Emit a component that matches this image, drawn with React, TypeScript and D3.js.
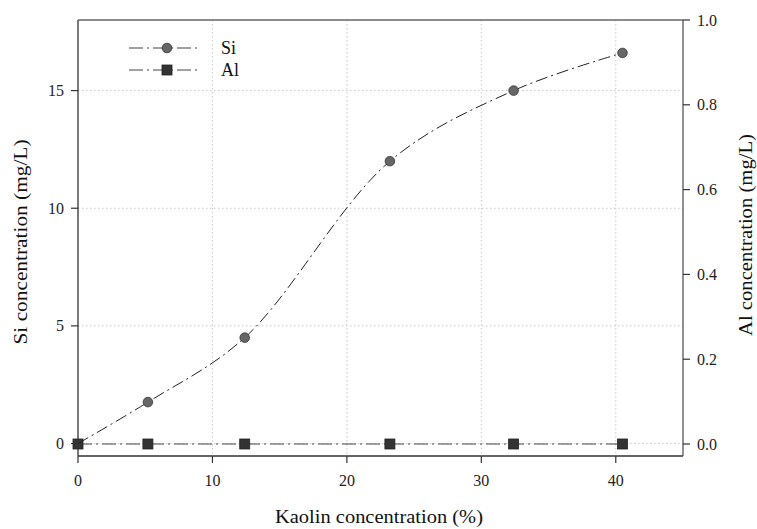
import React from "react";
import * as d3 from "d3";

// Kaolin concentration (%) at each sampling point
const kaolin = [0, 5.2, 12.4, 23.2, 32.4, 40.5];
// Dissolved Si (mg/L), left axis
const siValues = [0, 1.76, 4.5, 12.0, 15.0, 16.6];
// Dissolved Al (mg/L), right axis
const alValues = [0, 0, 0, 0, 0, 0];

const xTicks = [0, 10, 20, 30, 40];
const siTicks = [0, 5, 10, 15];
const alTicks = [0, 0.2, 0.4, 0.6, 0.8, 1.0];

const W = 757;
const H = 529;
const M = { left: 78, right: 683, top: 20, bottom: 456 };

const serif = "'Liberation Serif', 'Times New Roman', serif";

export default function App() {
  const x = d3.scaleLinear().domain([0, 45]).range([M.left, M.right]);
  const ySi = d3.scaleLinear().domain([-0.53, 18.0]).range([M.bottom, M.top]);
  const yAl = d3.scaleLinear().domain([-0.0283, 1.0]).range([M.bottom, M.top]);

  const siLine = d3
    .line<number>()
    .x((_, i) => x(kaolin[i]))
    .y((d) => ySi(d))
    .curve(d3.curveCatmullRom.alpha(0.5));
  const alLine = d3
    .line<number>()
    .x((_, i) => x(kaolin[i]))
    .y((d) => yAl(d));

  const tickStyle = { fontFamily: serif, fontSize: 16 };
  const titleStyle = { fontFamily: serif, fontSize: 18 };
  const grid = "#c8c8c8";
  const axisCol = "#333";

  return (
    <svg
      width={W}
      height={H}
      style={{ position: "absolute", left: 0, top: 0, background: "#fff" }}
    >
      {/* grid */}
      <g stroke={grid} strokeWidth={1} strokeDasharray="1.5,2.5">
        {xTicks
          .filter((t) => t > 0)
          .map((t) => (
            <line key={"gx" + t} x1={x(t)} x2={x(t)} y1={M.top} y2={M.bottom} />
          ))}
        {siTicks.map((t) => (
          <line key={"gy" + t} x1={M.left} x2={M.right} y1={ySi(t)} y2={ySi(t)} />
        ))}
      </g>

      {/* frame */}
      <line x1={M.left} x2={M.right} y1={M.top} y2={M.top} stroke="#666" strokeWidth={1.5} />
      <line x1={M.left} x2={M.right} y1={M.bottom} y2={M.bottom} stroke={axisCol} strokeWidth={1.3} />
      <line x1={M.left} x2={M.left} y1={M.top} y2={M.bottom} stroke={axisCol} strokeWidth={1.3} />
      <line x1={M.right} x2={M.right} y1={M.top} y2={M.bottom} stroke="#555" strokeWidth={1.3} />

      {/* bottom axis */}
      {xTicks.map((t) => (
        <g key={"xt" + t}>
          <line x1={x(t)} x2={x(t)} y1={M.bottom} y2={M.bottom + 7} stroke={axisCol} strokeWidth={1.2} />
          <text x={x(t)} y={486} textAnchor="middle" style={tickStyle} fill="#222">
            {t}
          </text>
        </g>
      ))}

      {/* left axis */}
      {siTicks.map((t) => (
        <g key={"yl" + t}>
          <line x1={M.left - 7} x2={M.left} y1={ySi(t)} y2={ySi(t)} stroke={axisCol} strokeWidth={1.2} />
          <text
            x={64}
            y={ySi(t)}
            dy="0.35em"
            textAnchor="end"
            style={tickStyle}
            fill="#222"
          >
            {t}
          </text>
        </g>
      ))}

      {/* right axis */}
      {alTicks.map((t) => (
        <g key={"yr" + t}>
          <line x1={M.right} x2={M.right + 7} y1={yAl(t)} y2={yAl(t)} stroke={axisCol} strokeWidth={1.2} />
          <text
            x={697}
            y={yAl(t)}
            dy="0.35em"
            textAnchor="start"
            style={tickStyle}
            fill="#222"
          >
            {t.toFixed(1)}
          </text>
        </g>
      ))}

      {/* axis titles */}
      <text
        x={379}
        y={523}
        textAnchor="middle"
        textLength={208}
        lengthAdjust="spacingAndGlyphs"
        style={titleStyle}
        fill="#111"
      >
        Kaolin concentration (%)
      </text>
      <text
        transform="translate(27,242) rotate(-90)"
        textAnchor="middle"
        textLength={205}
        lengthAdjust="spacingAndGlyphs"
        style={titleStyle}
        fill="#111"
      >
        Si concentration (mg/L)
      </text>
      <text
        transform="translate(752,235) rotate(-90)"
        textAnchor="middle"
        textLength={202}
        lengthAdjust="spacingAndGlyphs"
        style={titleStyle}
        fill="#111"
      >
        Al concentration (mg/L)
      </text>

      {/* Al series */}
      <path
        d={alLine(alValues) ?? ""}
        fill="none"
        stroke="#444"
        strokeWidth={1.2}
        strokeDasharray="14,4,2,4"
      />
      {alValues.map((v, i) => (
        <rect
          key={"al" + i}
          x={x(kaolin[i]) - 5}
          y={yAl(v) - 5}
          width={10}
          height={10}
          fill="#333"
          stroke="#222"
          strokeWidth={0.8}
        />
      ))}

      {/* Si series */}
      <path
        d={siLine(siValues) ?? ""}
        fill="none"
        stroke="#222"
        strokeWidth={1}
        strokeDasharray="12,4,2,4"
      />
      {siValues.map((v, i) =>
        i === 0 ? null : (
          <circle
            key={"si" + i}
            cx={x(kaolin[i])}
            cy={ySi(v)}
            r={4.8}
            fill="#666"
            stroke="#333"
            strokeWidth={0.8}
          />
        )
      )}

      {/* legend */}
      <g>
        <line x1={129} x2={200} y1={48} y2={48} stroke="#444" strokeWidth={1.2} strokeDasharray="14,4,2,4" />
        <circle cx={167} cy={48} r={4.8} fill="#666" stroke="#333" strokeWidth={0.8} />
        <text x={221} y={48} dy="0.35em" style={titleStyle} fill="#111">
          Si
        </text>
        <line x1={129} x2={200} y1={70} y2={70} stroke="#444" strokeWidth={1.2} strokeDasharray="14,4,2,4" />
        <rect x={162} y={65} width={10} height={10} fill="#333" stroke="#222" strokeWidth={0.8} />
        <text x={221} y={70} dy="0.35em" style={titleStyle} fill="#111">
          Al
        </text>
      </g>
    </svg>
  );
}
